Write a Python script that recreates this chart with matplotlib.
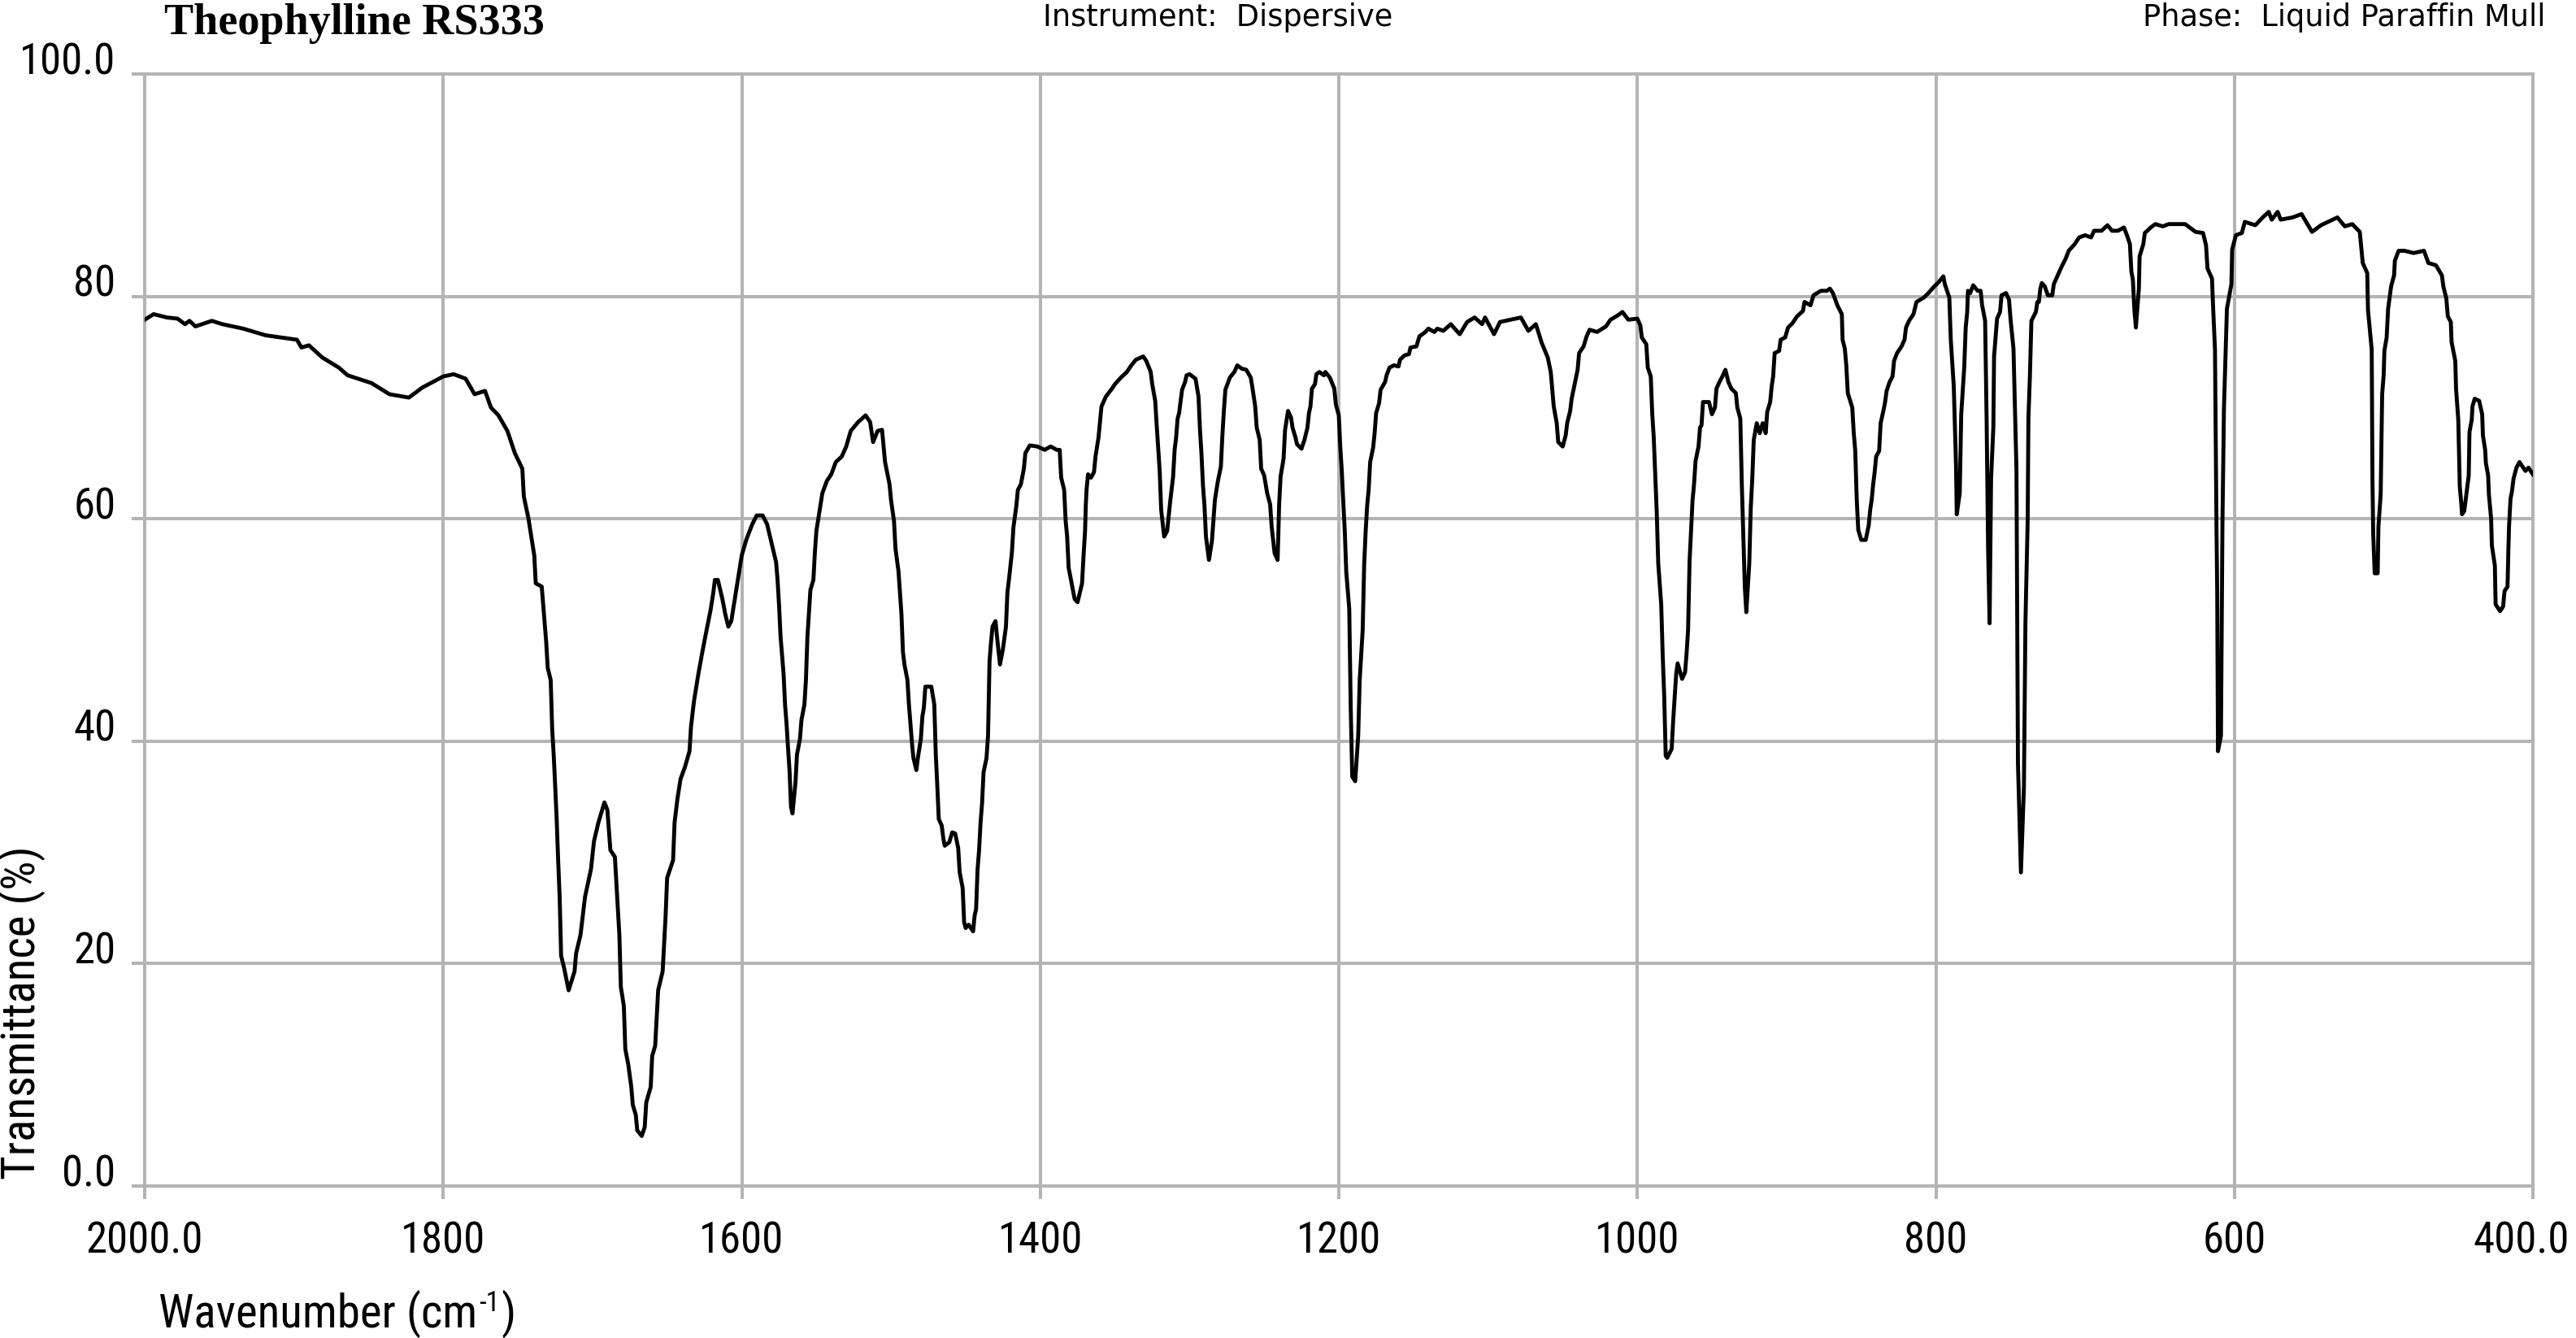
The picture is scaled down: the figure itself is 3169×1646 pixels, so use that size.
"""
Theophylline RS333 - IR-Spektrum (Transmission) nachgezeichnet.
"""

import os
import matplotlib
matplotlib.use("Agg")
import matplotlib.pyplot as plt
import matplotlib.transforms as mtransforms
import numpy as np
from matplotlib import font_manager as fm

# Spektrum in Abschnitten: Wellenzahl [cm-1] und Transmission [%]
wn_2000_1600 = [2000, 1994, 1985, 1978, 1973, 1970, 1966, 1955, 1948, 1934, 1919, 1898, 1895, 1890,
                1881, 1870, 1864, 1848, 1836, 1823, 1814, 1800, 1793, 1785, 1779, 1772, 1768, 1763,
                1757, 1752, 1747, 1746, 1743, 1739, 1738, 1734, 1731, 1730, 1728, 1727, 1726, 1725,
                1724, 1723, 1722, 1721, 1719, 1716, 1712, 1711, 1708, 1705, 1701, 1699, 1696, 1692,
                1690, 1688, 1685, 1682, 1681, 1679, 1678, 1676, 1674, 1673, 1671, 1670, 1667, 1665,
                1664, 1661, 1660, 1658, 1656, 1653, 1651, 1650, 1646, 1645, 1643, 1641, 1638, 1635,
                1634, 1632, 1629, 1626, 1624, 1621, 1619, 1618, 1616, 1613, 1611, 1609, 1607, 1605,
                1603, 1600]
t_2000_1600 = [77.9, 78.4, 78.1, 78.0, 77.5, 77.8, 77.3, 77.8, 77.5, 77.1, 76.5, 76.1, 75.4, 75.6,
               74.5, 73.6, 72.9, 72.2, 71.2, 70.9, 71.8, 72.8, 73.0, 72.6, 71.2, 71.5, 70.0, 69.3,
               67.9, 65.9, 64.5, 62.0, 60.1, 56.7, 54.2, 53.9, 48.9, 46.6, 45.5, 41.1, 38.8, 36.0,
               33.0, 29.3, 26.0, 20.7, 19.6, 17.6, 19.3, 20.9, 22.6, 26.0, 28.5, 31.0, 32.7, 34.5,
               33.8, 30.2, 29.6, 22.6, 17.9, 16.2, 12.3, 10.9, 8.9, 7.3, 6.4, 5.0, 4.5, 5.3,
               7.5, 8.9, 11.7, 12.6, 17.6, 19.3, 24.3, 27.7, 29.3, 32.7, 34.9, 36.6, 37.7, 39.1,
               41.3, 43.6, 46.1, 48.3, 49.7, 51.7, 53.4, 54.5, 54.5, 52.8, 51.4, 50.3, 50.8, 52.5,
               54.2, 56.7]

wn_1600_1333 = [1597, 1593, 1590, 1586, 1583, 1580, 1577, 1576, 1575, 1574, 1572, 1571, 1570, 1569,
                1568, 1567, 1566, 1565, 1564, 1563, 1561, 1560, 1558, 1557, 1556, 1554, 1552, 1551,
                1550, 1548, 1546, 1543, 1540, 1537, 1533, 1530, 1527, 1522, 1517, 1514, 1512, 1509,
                1506, 1504, 1501, 1500, 1498, 1497, 1495, 1494, 1493, 1492, 1491, 1489, 1488, 1487,
                1486, 1485, 1483, 1482, 1480, 1479, 1478, 1477, 1473, 1471, 1470, 1469, 1468, 1466,
                1465, 1464, 1461, 1459, 1457, 1455, 1454, 1452, 1451, 1450, 1448, 1445, 1444, 1443,
                1442, 1441, 1440, 1439, 1438, 1436, 1435, 1434, 1433, 1432, 1430, 1429, 1427, 1425,
                1423, 1422, 1421, 1419, 1418, 1416, 1415, 1413, 1411, 1410, 1407, 1402, 1397, 1393,
                1389, 1387, 1386, 1384, 1383, 1382, 1381, 1379, 1377, 1375, 1372, 1371, 1370, 1369.5,
                1369, 1368, 1366, 1364, 1363, 1361, 1359, 1356, 1352, 1350, 1346, 1342, 1339, 1336]
t_1600_1333 = [58.1, 59.5, 60.3, 60.3, 59.5, 57.8, 56.1, 54.5, 52.2, 49.4, 46.1, 43.3, 41.6, 39.4,
               37.4, 34.1, 33.5, 34.9, 36.3, 38.8, 40.2, 41.9, 43.3, 45.5, 49.4, 53.6, 54.5, 57.0,
               58.9, 60.6, 62.3, 63.4, 64.0, 65.1, 65.6, 66.5, 67.9, 68.7, 69.3, 68.7, 66.9, 67.9,
               68.0, 65.1, 63.1, 61.7, 59.8, 57.3, 55.3, 53.4, 51.4, 48.0, 46.9, 45.5, 43.3, 41.6,
               39.9, 38.5, 37.4, 38.5, 40.2, 42.2, 43.0, 44.9, 44.9, 43.3, 38.8, 36.0, 33.0, 32.4,
               31.3, 30.6, 30.9, 31.8, 31.7, 30.4, 28.2, 26.8, 23.7, 23.2, 23.5, 22.9, 24.3, 24.9,
               28.5, 30.2, 32.7, 34.4, 37.2, 38.5, 40.5, 47.2, 48.9, 50.3, 50.8, 49.4, 46.9, 48.3,
               50.3, 53.4, 54.5, 57.0, 59.2, 61.2, 62.6, 63.1, 64.5, 65.9, 66.6, 66.5, 66.2, 66.5,
               66.2, 66.2, 63.7, 62.6, 59.8, 58.4, 55.6, 54.2, 52.8, 52.5, 54.2, 56.7, 58.9, 61.2,
               62.6, 64.0, 63.7, 64.2, 65.6, 67.3, 70.1, 71.0, 71.7, 72.1, 72.7, 73.2, 73.8, 74.3]

wn_1333_1000 = [1331, 1329, 1326, 1325, 1323, 1322, 1321, 1320, 1319, 1317, 1315, 1313, 1311, 1310,
                1309, 1308, 1307, 1305, 1303, 1302, 1300, 1296, 1294, 1293, 1292, 1291, 1290, 1289,
                1287, 1285, 1284, 1283, 1281, 1279, 1278, 1277, 1276, 1273, 1270, 1268, 1265, 1262,
                1259, 1258, 1256, 1255, 1253, 1252, 1250, 1248, 1246, 1245, 1243, 1241, 1240.5, 1240,
                1239, 1237, 1236, 1234, 1232, 1231, 1229, 1228, 1225, 1223, 1221, 1220, 1219, 1218,
                1216, 1215, 1213, 1210, 1209, 1206, 1203, 1202, 1200, 1199, 1198, 1197, 1196, 1195,
                1193, 1192, 1191, 1189, 1187, 1186, 1184, 1183, 1182, 1181, 1180, 1179, 1177, 1176,
                1175, 1173, 1172, 1169, 1168, 1166, 1163, 1160, 1159, 1156, 1153, 1152, 1148, 1146,
                1142, 1140, 1136, 1134, 1130, 1125, 1119, 1114, 1109, 1104, 1102, 1096, 1092, 1085,
                1078, 1073, 1068, 1064, 1060, 1058, 1056, 1054, 1053, 1050, 1048, 1047, 1045, 1044,
                1042, 1040, 1039, 1036, 1034, 1032, 1027, 1021, 1018, 1013, 1010, 1006, 1000]
t_1333_1000 = [74.6, 74.2, 73.2, 72.1, 70.6, 68.4, 66.4, 64.3, 60.8, 58.4, 58.9, 61.5, 63.8, 66.2,
               67.3, 69.0, 69.5, 71.6, 72.3, 72.9, 73.0, 72.6, 71.0, 68.0, 65.8, 63.0, 61.2, 58.4,
               56.3, 58.0, 59.9, 61.7, 63.4, 64.7, 67.5, 69.7, 71.6, 72.7, 73.2, 73.8, 73.5, 73.4,
               72.7, 71.9, 70.1, 68.2, 67.1, 64.5, 63.9, 62.3, 61.3, 59.3, 56.9, 56.3, 58.6, 61.2,
               63.8, 65.4, 68.0, 69.7, 69.1, 68.2, 67.3, 66.7, 66.3, 67.1, 68.2, 69.5, 70.1, 71.7,
               72.1, 73.0, 73.2, 72.9, 73.2, 72.7, 71.7, 70.3, 69.3, 66.4, 64.3, 61.5, 58.9, 55.2,
               51.9, 42.9, 36.8, 36.4, 40.5, 45.5, 50.0, 55.9, 58.9, 61.2, 62.6, 65.1, 66.4, 67.7,
               69.5, 70.4, 71.6, 72.3, 72.9, 73.6, 73.8, 73.7, 74.3, 74.7, 74.8, 75.4, 75.5, 76.4,
               76.8, 77.1, 76.8, 77.1, 76.9, 77.5, 76.6, 77.7, 78.1, 77.5, 78.1, 76.6, 77.7, 77.9,
               78.1, 76.9, 77.5, 75.8, 74.5, 73.2, 70.1, 68.6, 66.9, 66.5, 67.5, 68.6, 69.7, 70.8,
               72.1, 73.4, 74.9, 75.5, 76.4, 77.0, 76.8, 77.3, 77.9, 78.3, 78.6, 77.9, 78.0]

wn_1000_653 = [998, 997, 994, 993, 991, 990, 989, 988, 987, 986, 984, 983, 982, 981, 980, 977, 976,
               975, 974, 973, 970, 968, 967, 966, 965, 964, 963, 962, 961, 959, 958, 957, 956, 952,
               950, 948, 947, 945, 943, 941, 939, 937, 934, 933, 931, 930, 929, 928, 927, 925, 924,
               923, 922, 920, 918, 916, 914, 913, 911, 910, 909, 908, 905, 904, 901, 899, 896, 893,
               889, 888, 884, 882, 877, 873, 871, 869, 866, 863, 862.5, 861, 860, 859, 856, 855, 854,
               853, 852, 850, 847, 845, 844, 843, 842, 841, 840, 838, 837, 835, 834, 833, 831, 829,
               828, 826, 823, 821, 820, 818, 815, 813, 808, 805, 801, 798, 795, 794, 791, 790, 788,
               786.5, 786, 784, 783, 781, 780, 779, 778.5, 777, 775, 772, 770, 769, 767, 766, 765,
               764, 763, 761.5, 761, 759, 757, 756, 753, 751, 750, 748, 746, 745, 743, 741, 740,
               738.5, 738, 737, 736, 733, 732, 731, 730, 729, 727, 725, 722, 721, 718, 716, 713, 711,
               707, 704, 700, 696, 694, 689, 685, 682, 678, 674, 672, 670, 669, 668, 667, 666, 664,
               663.5, 661, 660, 656]
t_1000_653 = [77.4, 76.3, 75.7, 73.6, 72.8, 69.4, 67.3, 64.0, 60.6, 56.0, 52.3, 47.7, 44.1, 38.7,
              38.5, 39.3, 41.8, 43.9, 46.0, 47.0, 45.6, 46.2, 47.9, 50.0, 56.2, 59.0, 61.7, 63.1,
              65.2, 66.5, 68.2, 68.4, 70.5, 70.5, 69.4, 70.0, 71.7, 72.3, 72.8, 73.4, 72.3, 71.7,
              71.3, 70.0, 69.0, 63.1, 58.5, 53.9, 51.6, 56.0, 61.0, 63.6, 67.1, 68.6, 67.7, 68.6,
              67.7, 69.6, 70.5, 71.9, 72.8, 74.9, 75.1, 76.1, 76.3, 77.2, 77.6, 78.2, 78.7, 79.5,
              79.2, 80.1, 80.5, 80.5, 80.7, 80.3, 79.2, 78.4, 76.1, 75.3, 73.8, 71.3, 70.0, 67.7,
              66.1, 61.7, 59.0, 58.1, 58.1, 59.4, 60.8, 61.7, 63.1, 64.2, 65.6, 66.1, 68.6, 69.8,
              70.5, 71.5, 72.3, 72.8, 74.2, 74.9, 75.5, 76.1, 77.2, 77.8, 78.4, 79.5, 79.9, 80.3,
              80.9, 81.3, 81.8, 81.1, 79.9, 76.1, 71.9, 64.8, 60.4, 62.3, 69.4, 73.6, 77.2, 78.6,
              80.5, 80.3, 81.0, 80.5, 80.5, 79.2, 77.8, 69.0, 57.3, 50.6, 63.6, 68.2, 74.6, 78.0,
              78.6, 80.1, 80.3, 79.7, 78.0, 75.3, 64.4, 38.0, 28.2, 35.9, 50.6, 59.8, 69.0, 72.8,
              77.8, 78.6, 79.5, 79.5, 80.7, 81.2, 80.9, 80.1, 80.1, 81.1, 82.0, 82.6, 83.4, 84.1,
              84.7, 85.3, 85.5, 85.3, 85.9, 85.9, 86.4, 85.9, 85.9, 86.2, 85.5, 84.7, 82.2, 81.5,
              78.8, 77.2, 80.7, 83.6, 84.7, 85.7, 86.2]

wn_653_400 = [653, 648, 644, 633, 626, 621, 619, 618, 615, 614.5, 613, 612, 611.5, 611, 609, 608, 607,
              605, 602, 601.5, 599, 595, 593, 586, 581, 577, 575, 571, 569, 561, 555, 548, 542, 531,
              526, 521, 516, 514, 511, 510.5, 508, 507.5, 507, 506, 504, 503.5, 502, 501, 500, 499.5,
              498, 497, 495, 493, 492.5, 490, 486, 480, 473, 470, 465, 461, 460, 458, 457, 455,
              454.5, 452, 451.5, 450, 449, 448, 447.5, 446, 443, 442.5, 441, 440.5, 439, 436, 434,
              433.5, 432, 431.5, 430, 429.5, 428, 427.5, 425.5, 425, 422, 420, 419, 417, 416.5, 416,
              415, 414, 413, 411, 409, 407, 405, 403, 400]
t_653_400 = [86.5, 86.3, 86.5, 86.5, 85.8, 85.7, 84.6, 82.5, 81.6, 79.8, 75.2, 59.3, 53.3, 39.1, 40.5,
             59.6, 69.9, 78.9, 81.1, 84.2, 85.5, 85.7, 86.7, 86.4, 87.1, 87.6, 86.9, 87.6, 86.9, 87.1,
             87.4, 85.8, 86.4, 87.1, 86.3, 86.5, 85.8, 83.0, 82.1, 78.8, 75.2, 63.6, 58.6, 55.1, 55.1,
             59.3, 62.2, 71.2, 72.9, 75.1, 76.3, 78.9, 80.9, 81.9, 83.2, 84.1, 84.1, 83.9, 84.1, 83.0,
             82.8, 81.9, 80.9, 79.8, 78.2, 77.7, 75.9, 74.2, 71.7, 68.9, 62.9, 61.4, 60.4, 60.7, 63.9,
             67.8, 68.9, 70.1, 70.8, 70.6, 69.4, 67.5, 66.2, 65.0, 63.9, 62.2, 60.0, 57.6, 55.8, 52.3,
             51.7, 52.1, 53.5, 53.9, 56.9, 59.3, 61.8, 62.5, 63.6, 64.6, 65.1, 64.7, 64.3, 64.6, 64.0]

x_ticks = [2000, 1800, 1600, 1400, 1200, 1000, 800, 600, 400]
x_labels = ["2000.0", "1800", "1600", "1400", "1200", "1000", "800", "600", "400.0"]
y_ticks = [0, 20, 40, 60, 80, 100]
y_labels = ["0.0", "20", "40", "60", "80", "100.0"]

wavenumber = np.concatenate([wn_2000_1600, wn_1600_1333, wn_1333_1000, wn_1000_653, wn_653_400])
transmittance = np.concatenate([t_2000_1600, t_1600_1333, t_1333_1000, t_1000_653, t_653_400])


def find_narrow_font():
    """Sucht eine schmale Sans-Schrift (Ersatz fuer Arial Narrow)."""
    prefs = ["liberationsans", "arial", "roboto", "notosans", "opensans", "dejavusans"]
    best = None
    for f in fm.fontManager.ttflist:
        base = os.path.splitext(os.path.basename(f.fname))[0].lower()
        base = base.replace("-", "").replace("_", "").replace(" ", "").split("[")[0]
        if "narrow" not in base and "condensed" not in base:
            continue
        rest = base.replace("condensed", "").replace("narrow", "")
        if rest.endswith("regular"):
            rest = rest[:-len("regular")]
        if rest in prefs:
            rank = prefs.index(rest)
            if best is None or rank < best[0]:
                best = (rank, f.fname)
    return best[1] if best else None


narrow_path = find_narrow_font()


def narrow_fp(size):
    if narrow_path:
        return fm.FontProperties(fname=narrow_path, size=size)
    return fm.FontProperties(family="Liberation Sans", size=size * 0.85)


W, H = 3169, 1646
grid_col = "#b4b4b4"

fig = plt.figure(figsize=(W / 100, H / 100), dpi=100)
ax = fig.add_axes([178 / W, (H - 1459) / H, 2938 / W, 1368 / H])

ax.plot(wavenumber, transmittance, color="black", lw=3.5, zorder=3)

ax.set_xlim(2000, 400)
ax.set_ylim(0, 100)
ax.set_xticks(x_ticks)
ax.set_xticklabels(x_labels)
ax.set_yticks(y_ticks)
ax.set_yticklabels(y_labels)

ax.grid(True, color=grid_col, lw=2.9)
ax.set_axisbelow(True)
for gl in ax.get_xgridlines() + ax.get_ygridlines():
    gl.set_clip_on(False)
for s in ax.spines.values():
    s.set_visible(False)

ax.tick_params(axis="both", length=11.5, width=2.9, color=grid_col)
ax.tick_params(axis="x", pad=19)
ax.tick_params(axis="y", pad=14)
for lab in ax.get_xticklabels() + ax.get_yticklabels():
    lab.set_fontproperties(narrow_fp(38))
for lab in ax.get_yticklabels():
    lab.set_va("baseline")
# letzte Beschriftung (400.0) etwas nach links, damit sie im Bild bleibt
last = ax.get_xticklabels()[-1]
last.set_transform(last.get_transform() + mtransforms.ScaledTranslation(-14 / 100, 0, fig.dpi_scale_trans))

# Kopfzeile
fig.text(202 / W, 1 - 42 / H, "Theophylline RS333", family="Liberation Serif",
         weight="bold", fontsize=39, va="baseline", ha="left")
fig.text(1283 / W, 1 - 32 / H, "Instrument:  Dispersive", family="DejaVu Sans",
         fontsize=26.5, va="baseline", ha="left")
fig.text(3131 / W, 1 - 32 / H, "Phase:  Liquid Paraffin Mull", family="DejaVu Sans",
         fontsize=26.5, va="baseline", ha="right")

# Achsenbeschriftungen (Hochzahl separat gesetzt)
renderer = fig.canvas.get_renderer()
y_base = 1 - 1633 / H
t1 = fig.text(195 / W, y_base, "Wavenumber (cm", fontproperties=narrow_fp(41), va="baseline")
bb1 = t1.get_window_extent(renderer)
t2 = fig.text((bb1.x1 + 2) / W, y_base + 20 / H, "-1", fontproperties=narrow_fp(25), va="baseline")
bb2 = t2.get_window_extent(renderer)
fig.text((bb2.x1 + 2) / W, y_base, ")", fontproperties=narrow_fp(41), va="baseline")

fig.text(26 / W, 1 - 1451 / H, "Transmittance (%)", fontproperties=narrow_fp(41),
         rotation=90, va="bottom", ha="center")

fig.savefig("out.png", dpi=100)
